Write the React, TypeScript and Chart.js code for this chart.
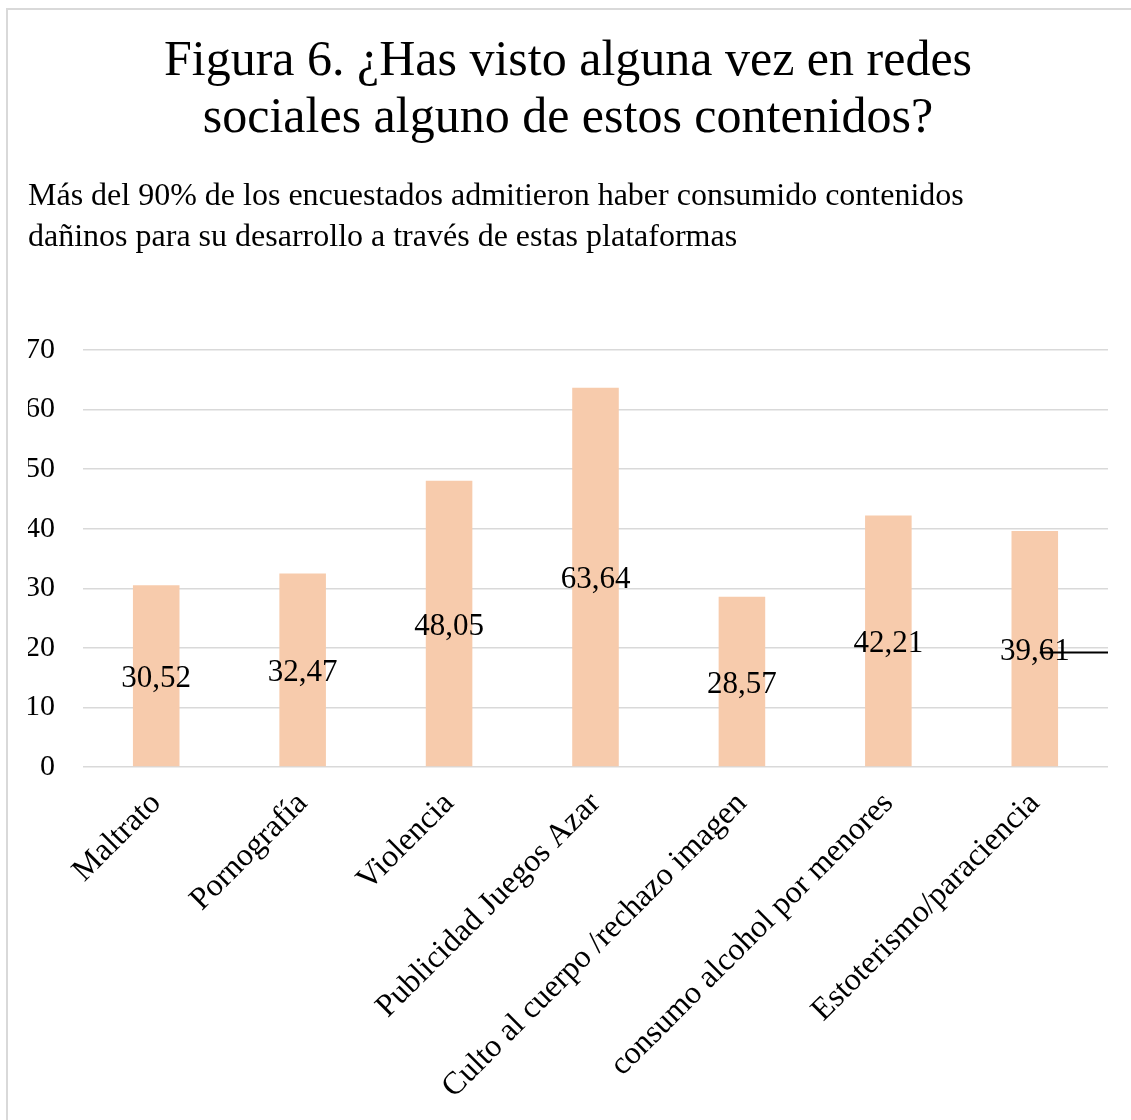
import React, { useEffect, useRef } from "react";
import { Chart, registerables } from "chart.js";

Chart.register(...registerables);

const titleLines = ["Figura 6. ¿Has visto alguna vez en redes", "sociales alguno de estos contenidos?"];
const subtitleLines = [
  "Más del 90% de los encuestados admitieron haber consumido contenidos",
  "dañinos para su desarrollo a través de estas plataformas",
];
const categories = [
  "Maltrato",
  "Pornografía",
  "Violencia",
  "Publicidad Juegos Azar",
  "Culto al cuerpo /rechazo imagen",
  "consumo alcohol por menores",
  "Estoterismo/paraciencia",
];
const values = [30.52, 32.47, 48.05, 63.64, 28.57, 42.21, 39.61];
const yTicks = [0, 10, 20, 30, 40, 50, 60, 70];

const FONT = "'Liberation Serif', 'Times New Roman', serif";

const labelPlugin = {
  id: "barLabels",
  afterDatasetsDraw(chart: any) {
    const meta = chart.getDatasetMeta(0);
    const ctx = chart.ctx;
    ctx.save();
    ctx.font = `31px ${FONT}`;
    ctx.fillStyle = "#000";
    ctx.textAlign = "center";
    ctx.textBaseline = "middle";
    meta.data.forEach((bar: any, i: number) => {
      const y = (bar.y + bar.base) / 2 + 3;
      ctx.fillText(values[i].toFixed(2).replace(".", ","), bar.x, y);
      if (i === meta.data.length - 1) {
        ctx.strokeStyle = "#000";
        ctx.lineWidth = 2;
        ctx.beginPath();
        ctx.moveTo(bar.x + 5, y + 1);
        ctx.lineTo(chart.chartArea.right, y + 1);
        ctx.stroke();
      }
    });
    ctx.restore();
  },
};

export default function App() {
  const ref = useRef<HTMLCanvasElement>(null);
  useEffect(() => {
    if (!ref.current) return;
    Chart.defaults.font.family = FONT;
    Chart.defaults.color = "#000";
    const chart = new Chart(ref.current, {
      type: "bar",
      data: {
        labels: categories,
        datasets: [
          {
            data: values,
            backgroundColor: "#F7CBAC",
            barPercentage: 0.318,
            categoryPercentage: 1,
          },
        ],
      },
      options: {
        animation: false,
        responsive: false,
        layout: { padding: { left: 28, right: 23, top: 0, bottom: 0 } },
        plugins: {
          legend: { display: false },
          tooltip: { enabled: false },
          title: {
            display: true,
            text: titleLines,
            color: "#000",
            font: { size: 50, weight: "normal", family: FONT, lineHeight: 1.14 },
            padding: { top: 33, bottom: 0 },
          },
          subtitle: {
            display: true,
            text: subtitleLines,
            align: "start",
            color: "#000",
            font: { size: 32, weight: "normal", family: FONT, lineHeight: 1.28 },
            padding: { top: 29, bottom: 92 },
          },
        },
        scales: {
          x: {
            grid: { display: false, drawTicks: false },
            border: { display: false },
            ticks: {
              autoSkip: false,
              minRotation: 45,
              maxRotation: 45,
              padding: 18,
              color: "#000",
              font: { size: 32, family: FONT },
            },
            afterFit: (s: any) => {
              s.height = 353;
            },
          },
          y: {
            min: 0,
            max: 70,
            afterBuildTicks: (s: any) => {
              s.ticks = yTicks.map((v) => ({ value: v }));
            },
            grid: { color: "#d9d9d9", lineWidth: 1.5, drawTicks: false },
            border: { display: false },
            ticks: {
              padding: 28,
              color: "#000",
              font: { size: 30, family: FONT },
            },
            afterFit: (s: any) => {
              s.width = 55;
            },
          },
        },
      },
      plugins: [labelPlugin],
    } as any);
    return () => chart.destroy();
  }, []);
  return (
    <div style={{ position: "absolute", left: 0, top: 0, width: 1131, height: 1120, overflow: "hidden", background: "#fff" }}>
      <div
        style={{
          position: "absolute",
          left: 6,
          top: 8,
          width: 1131,
          height: 1120,
          borderLeft: "2px solid #d9d9d9",
          borderTop: "2px solid #d9d9d9",
        }}
      />
      <canvas ref={ref} width={1131} height={1120} style={{ position: "absolute", left: 0, top: 0, width: 1131, height: 1120 }} />
    </div>
  );
}
